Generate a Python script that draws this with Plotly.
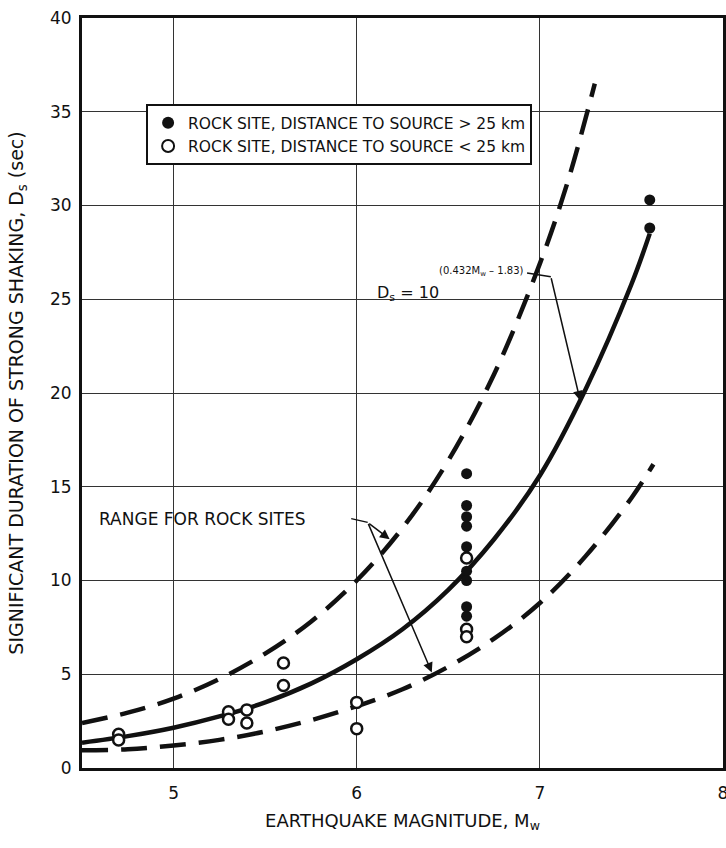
import plotly.graph_objects as go

# Rock sites, distance to source > 25 km (filled circles)
mag_far = [6.6, 6.6, 6.6, 6.6, 6.6, 6.6, 6.6, 6.6, 6.6, 7.6, 7.6]
dur_far = [15.7, 14.0, 13.4, 12.9, 11.8, 10.5, 10.0, 8.6, 8.1, 30.3, 28.8]

# Rock sites, distance to source < 25 km (open circles)
mag_near = [4.7, 4.7, 5.3, 5.3, 5.4, 5.4, 5.6, 5.6, 6.0, 6.0, 6.6, 6.6, 6.6]
dur_near = [1.8, 1.5, 3.0, 2.6, 3.1, 2.4, 5.6, 4.4, 3.5, 2.1, 11.2, 7.4, 7.0]

# Mean relation Ds = 10^(0.432Mw - 1.83)
mean_m = [4.5, 4.75, 5.0, 5.25, 5.5, 5.75, 6.0, 6.25, 6.5, 6.75, 7.0, 7.25, 7.5, 7.6]
mean_d = [1.35, 1.7, 2.15, 2.75, 3.5, 4.5, 5.8, 7.4, 9.5, 12.2, 15.6, 20.2, 25.8, 28.5]

# Range for rock sites (dashed bounds)
upper_m = [4.5, 4.75, 5.0, 5.25, 5.5, 5.75, 6.0, 6.25, 6.5, 6.75, 7.0, 7.15, 7.3]
upper_d = [2.4, 2.95, 3.7, 4.75, 6.1, 7.8, 10.0, 12.8, 16.4, 21.0, 26.9, 31.2, 36.5]
lower_m = [4.5, 4.75, 5.0, 5.25, 5.5, 5.75, 6.0, 6.25, 6.5, 6.75, 7.0, 7.25, 7.5, 7.62]
lower_d = [0.95, 1.0, 1.2, 1.5, 1.95, 2.55, 3.3, 4.2, 5.4, 6.9, 8.8, 11.3, 14.4, 16.2]

x_ticks = [5, 6, 7, 8]
y_ticks = [0, 5, 10, 15, 20, 25, 30, 35, 40]

FONT = "DejaVu Sans"
BLACK = "#111"

fig = go.Figure()

dash = "26px,13px"
fig.add_trace(go.Scatter(x=upper_m, y=upper_d, mode="lines", showlegend=False,
                         line=dict(color=BLACK, width=4.5, dash=dash, shape="spline")))
fig.add_trace(go.Scatter(x=lower_m, y=lower_d, mode="lines", showlegend=False,
                         line=dict(color=BLACK, width=4.5, dash=dash, shape="spline")))
fig.add_trace(go.Scatter(x=mean_m, y=mean_d, mode="lines", showlegend=False,
                         line=dict(color=BLACK, width=4.5, shape="spline")))

fig.add_trace(go.Scatter(
    x=mag_far, y=dur_far, mode="markers",
    name="ROCK SITE, DISTANCE TO SOURCE > 25 km",
    marker=dict(symbol="circle", size=11, color=BLACK),
))
fig.add_trace(go.Scatter(
    x=mag_near, y=dur_near, mode="markers",
    name="ROCK SITE, DISTANCE TO SOURCE < 25 km",
    marker=dict(symbol="circle", size=11, color="white",
                line=dict(color=BLACK, width=2.5)),
))

# equation label and its leader
fig.add_annotation(x=6.1, y=25.3, text="D<sub>s</sub> = 10", showarrow=False,
                   xanchor="left", font=dict(size=16, family=FONT, color=BLACK))
fig.add_annotation(x=6.44, y=26.5, text="(0.432M<sub>w</sub> – 1.83)", showarrow=False,
                   xanchor="left", font=dict(size=10, family=FONT, color=BLACK))
fig.add_shape(type="line", x0=6.93, y0=26.4, x1=7.06, y1=26.2,
              line=dict(color=BLACK, width=1.5))
fig.add_annotation(x=7.22, y=19.6, ax=7.06, ay=26.2, axref="x", ayref="y",
                   text="", showarrow=True, arrowhead=2, arrowsize=1.3,
                   arrowwidth=1.5, arrowcolor=BLACK)

# range label and arrows
fig.add_annotation(x=4.58, y=13.3, text="RANGE FOR ROCK SITES", showarrow=False,
                   xanchor="left", font=dict(size=17, family=FONT, color=BLACK))
fig.add_shape(type="line", x0=5.97, y0=13.3, x1=6.06, y1=13.1,
              line=dict(color=BLACK, width=1.5))
fig.add_annotation(x=6.18, y=12.2, ax=6.06, ay=13.1, axref="x", ayref="y",
                   text="", showarrow=True, arrowhead=2, arrowsize=1.3,
                   arrowwidth=1.5, arrowcolor=BLACK)
fig.add_annotation(x=6.41, y=5.1, ax=6.06, ay=13.1, axref="x", ayref="y",
                   text="", showarrow=True, arrowhead=2, arrowsize=1.3,
                   arrowwidth=1.5, arrowcolor=BLACK)

axis_common = dict(
    showline=True, linecolor=BLACK, linewidth=3, mirror=True,
    showgrid=True, gridcolor="#333", gridwidth=1,
    zeroline=False, ticks="", automargin=False, ticklabeloverflow="allow",
    tickfont=dict(size=17, family=FONT, color=BLACK),
)

fig.update_xaxes(range=[4.5, 8], tickvals=x_ticks, ticklabelstandoff=8,
                 title_text="EARTHQUAKE MAGNITUDE, M<sub>w</sub>", title_standoff=12,
                 title_font=dict(size=18, family=FONT, color=BLACK),
                 **axis_common)
fig.update_yaxes(range=[0, 40], tickvals=y_ticks, ticklabelstandoff=4,
                 title_text="SIGNIFICANT DURATION OF STRONG SHAKING, D<sub>s</sub> (sec)",
                 title_standoff=22, title_font=dict(size=19, family=FONT, color=BLACK),
                 **axis_common)

fig.update_layout(
    width=726, height=848,
    margin=dict(l=82, r=3, t=18, b=80),
    plot_bgcolor="white", paper_bgcolor="white",
    legend=dict(x=0.1, y=0.885, xanchor="left", yanchor="top",
                bgcolor="white", bordercolor=BLACK, borderwidth=2,
                font=dict(size=15.5, family=FONT, color=BLACK),
                itemsizing="constant", tracegroupgap=0),
)

# drop the browser's default page margin so the figure sits at the window origin
fig.write_html("out.html", config={"displayModeBar": False},
               post_script="document.body.style.margin='0';")
